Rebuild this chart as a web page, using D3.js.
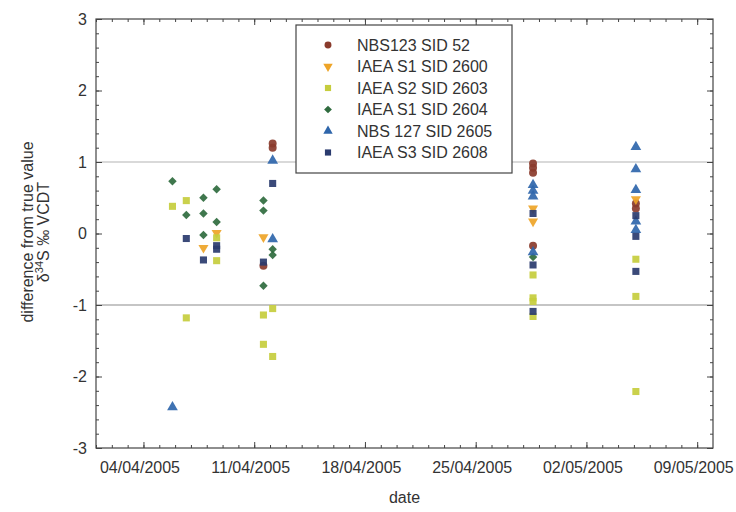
<!DOCTYPE html>
<html>
<head>
<meta charset="utf-8">
<script src="https://cdn.jsdelivr.net/npm/d3@7"></script>
<style>
  body { margin: 0; background: #fff; }
  text { font-family: "Liberation Sans", Arial, sans-serif; fill: #333; }
</style>
</head>
<body>
<svg id="chart" width="736" height="512"></svg>
<script>

// series labels, in legend order
var seriesNames = ['NBS123 SID 52', 'IAEA S1 SID 2600', 'IAEA S2 SID 2603',
                   'IAEA S1 SID 2604', 'NBS 127 SID 2605', 'IAEA S3 SID 2608'];

// measurements: [date (UTC), difference from true value]
var sid52 = [
  ['2005-04-12T04', 1.26], ['2005-04-12T04', 1.20], ['2005-04-11T14', -0.45],
  ['2005-04-28T15', 0.98], ['2005-04-28T15', 0.92], ['2005-04-28T15', 0.85],
  ['2005-04-28T15', -0.17], ['2005-05-05T03', 0.42], ['2005-05-05T03', 0.35]
];
var sid2600 = [
  ['2005-04-07T19', -0.20], ['2005-04-08T15', 0.01], ['2005-04-11T14', -0.05],
  ['2005-04-28T15', 0.35], ['2005-04-28T15', 0.17], ['2005-05-05T03', 0.48]
];
var sid2603 = [
  ['2005-04-05T20', 0.38], ['2005-04-06T17', 0.46], ['2005-04-06T17', -1.18],
  ['2005-04-08T15', -0.06], ['2005-04-08T15', -0.38],
  ['2005-04-11T14', -1.14], ['2005-04-11T14', -1.55],
  ['2005-04-12T04', -1.05], ['2005-04-12T04', -1.72],
  ['2005-04-28T15', -0.58], ['2005-04-28T15', -0.90], ['2005-04-28T15', -0.95],
  ['2005-04-28T15', -1.16], ['2005-05-05T03', -0.36], ['2005-05-05T03', -0.88],
  ['2005-05-05T03', -2.21]
];
var sid2604 = [
  ['2005-04-05T20', 0.73], ['2005-04-06T17', 0.26],
  ['2005-04-07T19', 0.50], ['2005-04-07T19', 0.28], ['2005-04-07T19', -0.02],
  ['2005-04-08T15', 0.62], ['2005-04-08T15', 0.16],
  ['2005-04-11T14', 0.46], ['2005-04-11T14', 0.32], ['2005-04-11T14', -0.73],
  ['2005-04-12T04', -0.22], ['2005-04-12T04', -0.30], ['2005-04-28T15', -0.33]
];
var sid2605 = [
  ['2005-04-05T20', -2.43], ['2005-04-12T04', 1.02], ['2005-04-12T04', -0.08],
  ['2005-04-28T15', 0.68], ['2005-04-28T15', 0.60], ['2005-04-28T15', 0.52],
  ['2005-04-28T15', -0.26], ['2005-05-05T03', 1.21], ['2005-05-05T03', 0.90],
  ['2005-05-05T03', 0.61], ['2005-05-05T03', 0.17], ['2005-05-05T03', 0.05]
];
var sid2608 = [
  ['2005-04-06T17', -0.07], ['2005-04-07T19', -0.37],
  ['2005-04-08T15', -0.17], ['2005-04-08T15', -0.22],
  ['2005-04-12T04', 0.70], ['2005-04-11T14', -0.40],
  ['2005-04-28T15', 0.28], ['2005-04-28T15', -0.44], ['2005-04-28T15', -1.09],
  ['2005-05-05T03', 0.25], ['2005-05-05T03', -0.04], ['2005-05-05T03', -0.53]
];

var seriesData = [sid52, sid2600, sid2603, sid2604, sid2605, sid2608];
var seriesColors = ['#8a3b2c', '#eea427', '#c6cd3d', '#2f6b3e', '#2f66ab', '#2a3b6e'];
var seriesShapes = [d3.symbolCircle, d3.symbolTriangle, d3.symbolSquare,
                    d3.symbolSquare, d3.symbolTriangle, d3.symbolSquare];
// extra rotation per shape: down-triangle and diamond
var seriesRotate = [0, 180, 0, 45, 0, 0];

// axis ranges and reference lines
var dateDomain = ['2005-04-01', '2005-05-10'];
var yDomain = [-3, 3];
var yTicks = [-3, -2, -1, 0, 1, 2, 3];
var refLines = [1, -1];

var parse = d3.utcParse('%Y-%m-%dT%H');
var parseDay = d3.utcParse('%Y-%m-%d');

var margin = {top: 19, left: 96, right: 23, bottom: 64};
var svg = d3.select('#chart');
var width = +svg.attr('width') - margin.left - margin.right;
var height = +svg.attr('height') - margin.top - margin.bottom;

var x = d3.scaleUtc()
  .domain(dateDomain.map(parseDay))
  .range([0, width]);

var y = d3.scaleLinear()
  .domain(yDomain)
  .range([height, 0]);

var g = svg.append('g')
  .attr('transform', 'translate(' + margin.left + ',' + margin.top + ')');

// reference lines at +/- 1
g.selectAll('.ref')
  .data(refLines)
  .enter().append('line')
    .attr('x1', 0)
    .attr('x2', width)
    .attr('y1', function(d){ return y(d); })
    .attr('y2', function(d){ return y(d); })
    .attr('stroke', function(d){ return d > 0 ? '#b4b4b4' : '#8c8c8c'; })
    .attr('stroke-width', 1.2);

// ticks: weekly labels, daily minor ticks
var days = d3.utcDay.range(x.domain()[0], x.domain()[1]);
var mondays = d3.utcMonday.range(x.domain()[0], x.domain()[1]);
var minorY = d3.range(-3, 3.01, 0.2).map(function(v){ return +v.toFixed(1); });

function styleAxis(sel){
  sel.select('.domain').remove();
  sel.selectAll('line').attr('stroke', '#444');
  sel.selectAll('text').style('font-size', '16px').attr('fill', '#333');
}

// bottom
g.append('g')
  .attr('transform', 'translate(0,' + height + ')')
  .call(d3.axisBottom(x).tickValues(days).tickSize(-3).tickFormat(''))
  .call(styleAxis);
g.append('g')
  .attr('transform', 'translate(0,' + height + ')')
  .call(d3.axisBottom(x).tickValues(mondays).tickSize(-6).tickPadding(14)
    .tickFormat(d3.utcFormat('%d/%m/%Y')))
  .call(styleAxis)
  .selectAll('text').attr('dx', -4);

// top
g.append('g')
  .call(d3.axisTop(x).tickValues(days).tickSize(-3).tickFormat(''))
  .call(styleAxis);
g.append('g')
  .call(d3.axisTop(x).tickValues(mondays).tickSize(-6).tickFormat(''))
  .call(styleAxis);

// left (plain hyphen for negatives, as in the original)
g.append('g')
  .call(d3.axisLeft(y).tickValues(minorY).tickSize(-3).tickFormat(''))
  .call(styleAxis);
g.append('g')
  .call(d3.axisLeft(y).tickValues(yTicks).tickSize(-6).tickPadding(9)
    .tickFormat(function(d){ return String(d); }))
  .call(styleAxis);

// right
g.append('g')
  .attr('transform', 'translate(' + width + ',0)')
  .call(d3.axisRight(y).tickValues(minorY).tickSize(-3).tickFormat(''))
  .call(styleAxis);
g.append('g')
  .attr('transform', 'translate(' + width + ',0)')
  .call(d3.axisRight(y).tickValues(yTicks).tickSize(-6).tickFormat(''))
  .call(styleAxis);

// plot frame
g.append('rect')
  .attr('width', width)
  .attr('height', height)
  .attr('fill', 'none')
  .attr('stroke', '#444')
  .attr('stroke-width', 1.2);

// points
seriesData.forEach(function(rows, i){
  var size = i === 3 ? 36 : (i === 1 ? 44 : 50);
  var sym = d3.symbol().type(seriesShapes[i]).size(size);
  g.append('g').selectAll('path')
    .data(rows)
    .enter().append('path')
      .attr('d', sym)
      .attr('transform', function(d){
        return 'translate(' + x(parse(d[0])) + ',' + y(d[1]) + ') rotate(' + seriesRotate[i] + ')';
      })
      .attr('fill', seriesColors[i])
      .attr('opacity', 0.92);
});

// legend
var legend = svg.append('g')
  .attr('transform', 'translate(296,25)');

legend.append('rect')
  .attr('width', 216)
  .attr('height', 148)
  .attr('fill', '#fff')
  .attr('stroke', '#444')
  .attr('stroke-width', 1.2);

var items = legend.selectAll('.item')
  .data(seriesNames)
  .enter().append('g')
    .attr('transform', function(d, i){ return 'translate(32,' + (20 + i * 21.5) + ')'; });

items.append('path')
  .attr('d', function(d, i){ return d3.symbol().type(seriesShapes[i]).size(i === 3 ? 30 : 38)(); })
  .attr('transform', function(d, i){ return 'rotate(' + seriesRotate[i] + ')'; })
  .attr('fill', function(d, i){ return seriesColors[i]; });

items.append('text')
  .attr('x', 29)
  .attr('dy', '0.36em')
  .style('font-size', '16px')
  .text(function(d){ return d; });

// axis titles
svg.append('text')
  .attr('x', margin.left + width / 2)
  .attr('y', 503)
  .attr('text-anchor', 'middle')
  .style('font-size', '16px')
  .text('date');

var yTitle = svg.append('text')
  .attr('transform', 'translate(0,232) rotate(-90)')
  .attr('text-anchor', 'middle')
  .style('font-size', '16px');

yTitle.append('tspan')
  .attr('x', 0)
  .attr('y', 33)
  .text('difference from true value');

var line2 = yTitle.append('tspan')
  .attr('x', 0)
  .attr('y', 49);
line2.append('tspan').text('δ');
line2.append('tspan').attr('dy', -6).style('font-size', '11px').text('34');
line2.append('tspan').attr('dy', 6).text('S ‰ VCDT');

</script>
</body>
</html>
